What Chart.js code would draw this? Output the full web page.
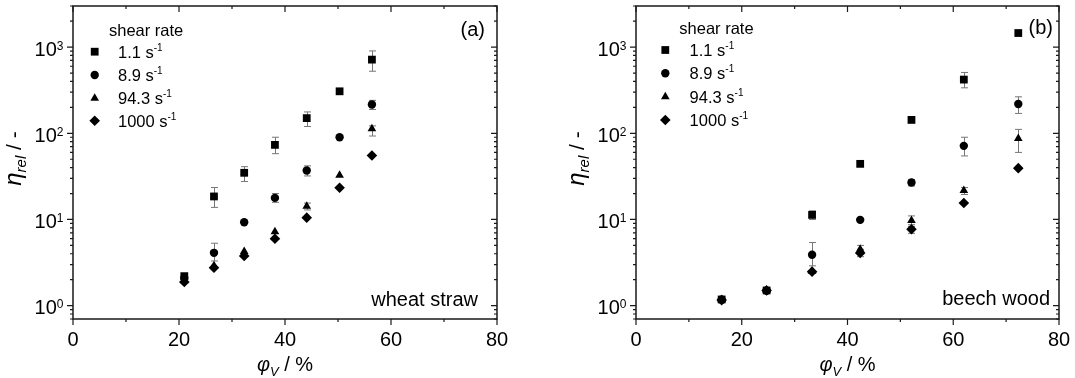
<!DOCTYPE html>
<html>
<head>
<meta charset="utf-8">
<script src="https://cdn.jsdelivr.net/npm/chart.js@4.4.1/dist/chart.umd.min.js"></script>
<style>
  body { margin: 0; background: #fff; }
  #wrap { position: relative; width: 1075px; height: 378px; }
  canvas { position: absolute; top: 0; }
</style>
</head>
<body>
<div id="wrap">
  <canvas id="chartA" width="540" height="378" style="left:0"></canvas>
  <canvas id="chartB" width="535" height="378" style="left:540px"></canvas>
</div>
<script>
// shear rates (s^-1) and marker per series
const shearRates = ['1.1', '8.9', '94.3', '1000'];
const pointShapes = ['rect', 'circle', 'triangle', 'rectRot'];
const pointSizes = [5.5, 4.2, 5, 5.3];

const xMajorTicks = [0, 20, 40, 60, 80];
const xMinorTicks = [10, 30, 50, 70];
const yDecades = [0.1, 1, 10, 100, 1000];
const yLabelTicks = [[1, '0'], [10, '1'], [100, '2'], [1000, '3']];

// (a) wheat straw
const phiWheat = [21.0, 26.6, 32.3, 38.1, 44.1, 50.3, 56.4];
const wheat1 = [2.2, 18.5, 34.8, 73.4, 150, 307, 716];
const wheat2 = [2.1, 4.1, 9.3, 17.8, 37, 90, 216];
const wheat3 = [1.95, 2.9, 4.25, 7.2, 14.2, 32.7, 113];
const wheat4 = [1.88, 2.76, 3.77, 5.97, 10.5, 23.3, 55.3];
const wheat1Err = [null, [13.8, 23.5], [27.6, 41], [58, 90], [120, 177], null, [525, 903]];
const wheat2Err = [null, [3.3, 5.3], null, [15.8, 20], [32, 41.9], null, [189, 241]];
const wheat3Err = [null, null, null, null, [12.9, 15.5], null, [93, 122]];
const wheat4Err = [null, null, null, null, null, null, null];

// (b) beech wood
const phiBeech = [16.2, 24.7, 33.3, 42.4, 52.1, 62.0, 72.3];
const beech1 = [1.18, 1.5, 11.3, 44.2, 143, 420, 1457];
const beech2 = [1.17, 1.5, 3.9, 9.9, 26.9, 71.5, 219];
const beech3 = [1.17, 1.52, 2.5, 4.5, 9.7, 21.7, 87];
const beech4 = [1.16, 1.5, 2.48, 4.08, 7.7, 15.5, 39.4];
const beech1Err = [null, null, [10, 12.6], null, null, [337, 508], null];
const beech2Err = [null, null, [2.9, 5.4], null, [24.5, 29], [54.6, 90], [170, 265]];
const beech3Err = [null, null, null, [4.0, 5.0], [8.7, 11], [19.5, 23.5], [60, 111]];
const beech4Err = [null, null, null, [3.7, 4.5], [6.9, 8.3], null, null];

const FONT = '"Liberation Sans", Arial, sans-serif';

function fontStr(p) {
  return (p.italic ? 'italic ' : '') + p.size + 'px ' + FONT;
}

// draws a row of text parts (sub/superscripts via dy)
function richText(ctx, parts, x, y, align) {
  let w = 0;
  parts.forEach(p => { ctx.font = fontStr(p); p.w = ctx.measureText(p.t).width; w += p.w; });
  let cx = align === 'center' ? x - w / 2 : (align === 'right' ? x - w : x);
  ctx.textAlign = 'left';
  ctx.textBaseline = 'alphabetic';
  parts.forEach(p => {
    ctx.font = fontStr(p);
    ctx.fillText(p.t, cx, y + (p.dy || 0));
    cx += p.w;
  });
}

function marker(ctx, style, r, x, y) {
  if (Chart.helpers && Chart.helpers.drawPoint) {
    Chart.helpers.drawPoint(ctx, { pointStyle: style, radius: r, borderWidth: 0, rotation: 0 }, x, y);
    return;
  }
  ctx.beginPath();
  ctx.arc(x, y, r, 0, Math.PI * 2);
  ctx.fill();
}

const panelDecor = {
  id: 'panelDecor',
  beforeDatasetsDraw(chart) {
    const ctx = chart.ctx, xs = chart.scales.x, ys = chart.scales.y;
    ctx.save();
    ctx.strokeStyle = '#777';
    ctx.lineWidth = 1;
    chart.data.datasets.forEach(ds => {
      ds.data.forEach((pt, j) => {
        const e = ds.errors[j];
        if (!e) return;
        const px = Math.round(xs.getPixelForValue(pt.x)) + 0.5;
        const lo = ys.getPixelForValue(e[0]), hi = ys.getPixelForValue(e[1]);
        ctx.beginPath();
        ctx.moveTo(px, lo); ctx.lineTo(px, hi);
        ctx.moveTo(px - 3.5, lo); ctx.lineTo(px + 3.5, lo);
        ctx.moveTo(px - 3.5, hi); ctx.lineTo(px + 3.5, hi);
        ctx.stroke();
      });
    });
    ctx.restore();
  },
  afterDraw(chart, args, opts) {
    const ctx = chart.ctx, xs = chart.scales.x, ys = chart.scales.y, a = chart.chartArea;
    ctx.save();
    ctx.strokeStyle = '#1a1a1a';
    ctx.fillStyle = '#000';

    // frame
    ctx.lineWidth = 1.5;
    ctx.strokeRect(a.left, a.top, a.right - a.left, a.bottom - a.top);

    // x ticks: out at bottom, in at top
    ctx.lineWidth = 1.2;
    ctx.beginPath();
    [[xMajorTicks, 6], [xMinorTicks, 3]].forEach(([vals, len]) => {
      vals.forEach(v => {
        const px = xs.getPixelForValue(v);
        ctx.moveTo(px, a.bottom); ctx.lineTo(px, a.bottom + len);
        ctx.moveTo(px, a.top); ctx.lineTo(px, a.top + len);
      });
    });
    // y ticks: out at left, in at right
    yDecades.forEach(d => {
      for (let k = 1; k <= 9; k++) {
        const v = k * d;
        if (v < ys.min || v > ys.max) continue;
        const py = ys.getPixelForValue(v);
        const len = k === 1 ? 6 : 3;
        ctx.moveTo(a.left, py); ctx.lineTo(a.left - len, py);
        ctx.moveTo(a.right, py); ctx.lineTo(a.right - len, py);
      }
    });
    ctx.stroke();

    // y tick labels 10^n
    yLabelTicks.forEach(([v, exp]) => {
      const py = ys.getPixelForValue(v);
      richText(ctx, [{ t: '10', size: 20 }, { t: exp, size: 12, dy: -6 }], a.left - 9.5, py + 8.5, 'right');
    });

    // axis titles
    richText(ctx, [
      { t: 'φ', size: 20, italic: true },
      { t: 'V', size: 13, italic: true, dy: 5 },
      { t: ' / %', size: 20 }
    ], (a.left + a.right) / 2, 371, 'center');

    ctx.save();
    ctx.translate(opts.yTitleX, (a.top + a.bottom) / 2 - 4);
    ctx.rotate(-Math.PI / 2);
    richText(ctx, [
      { t: 'η', size: 24, italic: true },
      { t: 'rel', size: 15, italic: true, dy: 5 },
      { t: ' / -', size: 21 }
    ], 0, 0, 'center');
    ctx.restore();

    // legend
    const lg = opts.legend;
    richText(ctx, [{ t: 'shear rate', size: 16.5 }], a.left + lg.titleX, lg.titleY + 5.5, 'left');
    chart.data.datasets.forEach((ds, i) => {
      const ry = lg.rows[i];
      marker(ctx, ds.pointStyle, ds.pointRadius, a.left + lg.markerX, ry);
      richText(ctx, [{ t: shearRates[i] + ' s', size: 16.5 }, { t: '-1', size: 10, dy: -7 }],
        a.left + lg.textX, ry + 5.8, 'left');
    });

    // panel tag and material
    ctx.font = '20px ' + FONT;
    ctx.textAlign = 'right';
    ctx.textBaseline = 'middle';
    ctx.fillText(opts.tag, a.right - opts.tagRight, opts.tagY);
    ctx.fillText(opts.material, a.right - opts.matRight, opts.matY);
    ctx.restore();
  }
};

function makeChart(id, xVals, series, errs, opts) {
  return new Chart(document.getElementById(id), {
    type: 'scatter',
    data: {
      datasets: series.map((vals, i) => ({
        label: shearRates[i] + ' s-1',
        data: xVals.map((x, j) => ({ x: x, y: vals[j] })),
        errors: errs[i],
        pointStyle: pointShapes[i],
        pointRadius: pointSizes[i],
        pointBackgroundColor: '#000',
        pointBorderWidth: 0,
        showLine: false
      }))
    },
    options: {
      responsive: false,
      animation: false,
      events: [],
      layout: { padding: { top: 6, right: opts.padRight, left: 0, bottom: 0 } },
      plugins: {
        legend: { display: false },
        tooltip: { enabled: false },
        panelDecor: opts
      },
      scales: {
        x: {
          type: 'linear',
          min: 0,
          max: 80,
          grid: { display: false, drawTicks: false },
          border: { display: false },
          ticks: { stepSize: 20, color: '#000', padding: 9, font: { family: FONT, size: 20 } },
          afterFit: s => { s.height = 59; s.paddingLeft = 0; s.paddingRight = 0; }
        },
        y: {
          type: 'logarithmic',
          min: 0.72,
          max: 3000,
          grid: { display: false, drawTicks: false },
          border: { display: false },
          ticks: { display: false },
          afterFit: s => { s.width = opts.axisWidth; }
        }
      }
    },
    plugins: [panelDecor]
  });
}

makeChart('chartA', phiWheat,
  [wheat1, wheat2, wheat3, wheat4],
  [wheat1Err, wheat2Err, wheat3Err, wheat4Err],
  {
    axisWidth: 73, padRight: 43, yTitleX: 21,
    tag: '(a)', tagRight: 12, tagY: 30,
    material: 'wheat straw', matRight: 19, matY: 300,
    legend: { titleX: 36, titleY: 30, markerX: 21.7, textX: 45, rows: [51.7, 75, 98.3, 120.7] }
  });

makeChart('chartB', phiBeech,
  [beech1, beech2, beech3, beech4],
  [beech1Err, beech2Err, beech3Err, beech4Err],
  {
    axisWidth: 96, padRight: 16, yTitleX: 44,
    tag: '(b)', tagRight: 6, tagY: 28.3,
    material: 'beech wood', matRight: 9, matY: 299.3,
    legend: { titleX: 43.3, titleY: 28.3, markerX: 29.3, textX: 53.6, rows: [50, 73.3, 96.7, 120] }
  });
</script>
</body>
</html>
